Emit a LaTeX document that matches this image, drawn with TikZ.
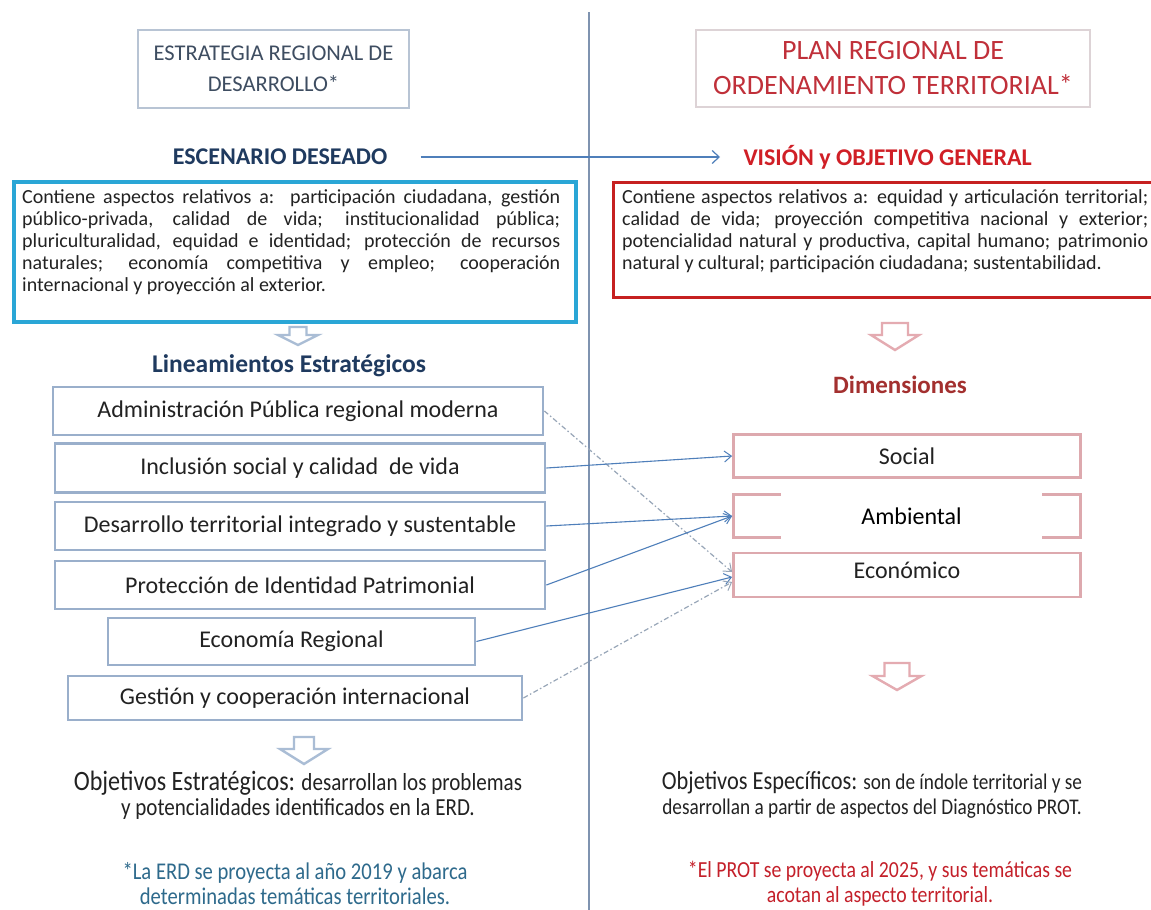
\documentclass[tikz,border=0pt]{standalone}
\usepackage{fontspec}
\setmainfont{Carlito}
\newfontfamily\condfont[FakeStretch=0.86]{Carlito}
\usetikzlibrary{arrows.meta}
\definecolor{vline}{HTML}{7F93B0}
\definecolor{titleL}{HTML}{3E4D61}
\definecolor{titleR}{HTML}{C0303A}
\definecolor{tboxL}{HTML}{B8C4D4}
\definecolor{tboxR}{HTML}{DDD3D6}
\definecolor{headB}{HTML}{1F3A5F}
\definecolor{headR}{HTML}{D01F26}
\definecolor{cyanb}{HTML}{2AA6D6}
\definecolor{redb}{HTML}{C62020}
\definecolor{lboxc}{HTML}{9AAFCB}
\definecolor{rboxc}{HTML}{DDA9AE}
\definecolor{arrB}{HTML}{4F7FBA}
\definecolor{dashc}{HTML}{98A6B8}
\definecolor{hollowB}{HTML}{AABDD5}
\definecolor{hollowR}{HTML}{E4ABB1}
\definecolor{dimc}{HTML}{A3302F}
\definecolor{noteB}{HTML}{2E6A8C}
\definecolor{noteR}{HTML}{C4202A}
\definecolor{txt}{HTML}{222222}
\tikzset{
  titlebox/.style={draw=#1, line width=1.2pt, minimum width=271pt, minimum height=78pt, align=center, inner sep=0pt},
  lbox/.style={draw=lboxc, line width=2.8pt, minimum height=48pt, inner sep=0pt, font=\fontsize{24}{26}\selectfont, text=txt},
  rbox/.style={draw=rboxc, line width=2.8pt, minimum width=347pt, inner sep=0pt, font=\fontsize{24}{26}\selectfont, text=txt},
  link/.style={draw=arrB, line width=1.1pt, -{Straight Barb[length=7pt,width=11pt,line width=1pt]}},
  dlink/.style={draw=dashc, line width=1.2pt, dash pattern=on 5pt off 2.5pt on 1.5pt off 2.5pt, -{Straight Barb[length=7pt,width=11pt,line width=1pt]}},
  pics/harrow/.style args={#1/#2/#3/#4/#5}{code={\draw[#1, line width=2.4pt, line join=miter]
      (-#2,0) -- (#2,0) -- (#2,#4) -- (#3,#4) -- (0,#5) -- (-#3,#4) -- (-#2,#4) -- cycle;}},
  bodytext/.style={inner sep=0pt, anchor=north west, align=justify, text=txt, font=\fontsize{20}{22}\selectfont}
}
\begin{document}
\begin{tikzpicture}[x=1pt,y=-1pt]
\fill[white] (0,0) rectangle (1151,910);
\useasboundingbox (0,0) rectangle (1151,910);
\clip (0,0) rectangle (1151,910);

% vertical divider
\draw[vline, line width=1.3pt] (589,12) -- (589,912);

% titles
\node[titlebox=tboxL, text=titleL, font=\fontsize{22.5}{31}\selectfont] (tL) at (273.5,69) {ESTRATEGIA REGIONAL DE\\DESARROLLO*};
\node[titlebox=tboxR, minimum width=394pt, minimum height=77pt, text=titleR, font=\fontsize{28}{35}\selectfont] (tR) at (893,68.5) {PLAN REGIONAL DE\\ORDENAMIENTO TERRITORIAL*};

% headings
\node[font=\bfseries\fontsize{24}{26}\selectfont, text=headB] (esc) at (280,157) {ESCENARIO DESEADO};
\node[font=\bfseries\fontsize{24}{26}\selectfont, text=headR, anchor=west] (vis) at (740,157) {VISIÓN y OBJETIVO GENERAL};
\draw[arrB, line width=1.4pt, -{Straight Barb[length=7pt,width=13pt,line width=1.2pt]}] (esc.east)++(30,0) coordinate (escR) -- ([xshift=-20pt]vis.west);

% text boxes
\node[draw=cyanb, line width=3.5pt, minimum width=562pt, minimum height=140pt, anchor=north west, inner sep=0pt] (escbox) at (12,180) {};
\node[bodytext, text width=538pt] (esctext) at (22,189) {Contiene aspectos relativos a:\ \ participación ciudadana, gestión\linebreak público-privada, calidad de vida; institucionalidad pública;\linebreak pluriculturalidad, equidad e identidad; protección de recursos\linebreak naturales; economía competitiva y empleo; cooperación\linebreak internacional y proyección al exterior.};

\node[draw=redb, line width=2.8pt, minimum width=545pt, minimum height=115pt, anchor=north west, inner sep=0pt] (visbox) at (612,181) {};
\node[bodytext, text width=526pt] (vistext) at (622,189) {Contiene aspectos relativos a: equidad y articulación territorial;\linebreak calidad de vida; proyección competitiva nacional y exterior;\linebreak potencialidad natural y productiva, capital humano; patrimonio\linebreak natural y cultural; participación ciudadana; sustentabilidad.};

% hollow arrows
\pic at (298,327) {harrow={hollowB/8.5/20/8/18}};
\pic at (895,323) {harrow={hollowR/13/24/12/27}};
\pic at (897,663) {harrow={hollowR/12.5/24.5/13/27}};
\pic at (304,737) {harrow={hollowB/10/24/12/27}};

% section labels
\node[font=\bfseries\fontsize{25.5}{27}\selectfont, text=headB] (lin) at (289,366) {Lineamientos Estratégicos};
\node[font=\bfseries\fontsize{25}{27}\selectfont, text=dimc] (dim) at (900,385) {Dimensiones};

% left boxes
\node[lbox, minimum width=490pt] (l1) at (298,411) {Administración Pública regional moderna};
\node[lbox, minimum width=490pt, minimum height=49pt] (l2) at (300,468) {Inclusión social y calidad\ \ de vida};
\node[lbox, minimum width=490pt] (l3) at (300,526) {Desarrollo territorial integrado y sustentable};
\node[lbox, minimum width=490pt] (l4) at (300,585) {Protección de Identidad Patrimonial};
\node[lbox, minimum width=367pt, minimum height=47pt] (l5) at (291.5,641.5) {Economía Regional};
\node[lbox, minimum width=454pt, minimum height=44pt] (l6) at (295,698) {Gestión y cooperación internacional};

% right boxes
\node[rbox, minimum height=43pt] (social) at (907,456) {Social};
\node[rbox, minimum height=43pt] (amb) at (907,516) {};
\node[fill=white, minimum width=261pt, minimum height=46pt, inner sep=0pt, font=\fontsize{24}{26}\selectfont, text=black] (ambtxt) at (911.5,516) {Ambiental};
\node[rbox, minimum height=44pt, text depth=10pt] (econ) at (907,575) {Económico};

% connectors
\draw[dlink] (l1.east) -- ([yshift=3pt]econ.west);
\draw[link] (l2.east) -- (social.west);
\draw[link] (l3.east) -- (amb.west);
\draw[link] (l4.east) -- (amb.west);
\draw[link] (l5.east) -- ([yshift=-2pt]econ.west);
\draw[dlink] (l6.east) -- ([yshift=-7pt]econ.west);

% objectives
\node[align=center, text=txt, font=\condfont\fontsize{24.5}{25}\selectfont] (objE) at (298,795) {{\fontsize{28}{25}\selectfont Objetivos Estratégicos:} desarrollan los problemas\\y potencialidades identificados en la ERD.};
\node[align=center, text=txt, font=\condfont\fontsize{22.4}{25}\selectfont] (objS) at (872,795) {{\fontsize{26}{25}\selectfont Objetivos Específicos:} son de índole territorial y se\\desarrollan a partir de aspectos del Diagnóstico PROT.};

% notes
\node[align=center, text=noteB, font=\condfont\fontsize{24}{25}\selectfont] (noteL) at (295,884) {*La ERD se proyecta al año 2019 y abarca\\determinadas temáticas territoriales.};
\node[align=center, text=noteR, font=\condfont\fontsize{23}{25}\selectfont] (noteR) at (880,884) {*El PROT se proyecta al 2025, y sus temáticas se\\acotan al aspecto territorial.};
\end{tikzpicture}
\end{document}
